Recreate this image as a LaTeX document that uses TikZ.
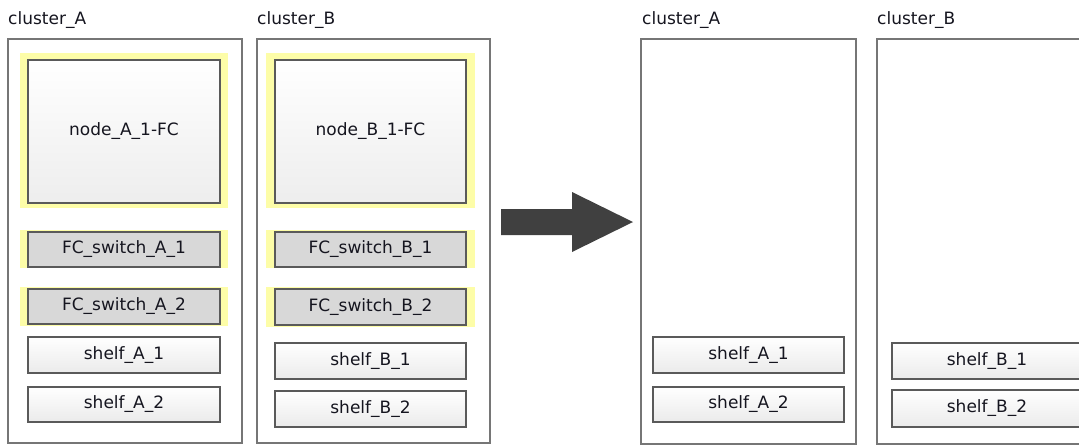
\documentclass[tikz,border=0pt]{standalone}
\usepackage{fontspec}
\setmainfont{DejaVu Sans}
\usetikzlibrary{shadows}
\definecolor{txt}{HTML}{15151F}
\definecolor{edge}{HTML}{5A5A5A}
\definecolor{cedge}{HTML}{767676}
\definecolor{glow}{HTML}{FDFDA8}
\definecolor{swfill}{HTML}{D8D8D8}
\definecolor{arrowc}{HTML}{404040}
\begin{document}
\begin{tikzpicture}[x=1pt,y=-1pt,
  lbl/.style={font=\fontsize{17}{19}\selectfont, text=txt, inner sep=0pt},
  clusterbox/.style={draw=cedge, line width=1.3pt, fill=white,
     drop shadow={shadow xshift=1pt, shadow yshift=-1pt, opacity=0.25}},
  nodebox/.style={draw=edge, line width=1.3pt, top color=white, bottom color=black!7,
     font=\fontsize{17}{19}\selectfont, text=txt, inner sep=0pt},
  switchbox/.style={draw=edge, line width=1.3pt, fill=swfill,
     font=\fontsize{17}{19}\selectfont, text=txt, inner sep=0pt},
  shelfbox/.style={draw=edge, line width=1.3pt, top color=white, bottom color=black!8,
     font=\fontsize{17}{19}\selectfont, text=txt, inner sep=0pt,
     drop shadow={shadow xshift=1pt, shadow yshift=-1.2pt, opacity=0.3}}
]
\useasboundingbox (0,0) rectangle (1079,445);
\clip (0,0) rectangle (1079,445);
\fill[white] (0,0) rectangle (1079,445);

% ---------- left cluster_A ----------
\node[lbl, anchor=base west] (lA) at (8,24) {cluster\_A};
\node[clusterbox, minimum width=234pt, minimum height=404pt] (cA) at (125,241) {};
\fill[glow] (20,53) rectangle (228,208);
\node[nodebox, minimum width=192pt, minimum height=143pt] (nA) at (124,131.5) {node\_A\_1-FC};
\fill[glow] (20,230) rectangle (228,268);
\node[switchbox, minimum width=192pt, minimum height=35pt] (swA1) at (124,249.5) {FC\_switch\_A\_1};
\fill[glow] (20,287) rectangle (228,326);
\node[switchbox, minimum width=192pt, minimum height=35pt] (swA2) at (124,306.5) {FC\_switch\_A\_2};
\node[shelfbox, minimum width=192pt, minimum height=36pt] (shA1) at (124,355) {shelf\_A\_1};
\node[shelfbox, minimum width=192pt, minimum height=35pt] (shA2) at (124,404.5) {shelf\_A\_2};

% ---------- left cluster_B ----------
\node[lbl, anchor=base west] (lB) at (257,24) {cluster\_B};
\node[clusterbox, minimum width=233pt, minimum height=404pt] (cB) at (373.5,241) {};
\fill[glow] (266,53) rectangle (475,208);
\node[nodebox, minimum width=191pt, minimum height=143pt] (nB) at (370.5,131.5) {node\_B\_1-FC};
\fill[glow] (266,230) rectangle (475,268);
\node[switchbox, minimum width=191pt, minimum height=35pt] (swB1) at (370.5,249.5) {FC\_switch\_B\_1};
\fill[glow] (266,287) rectangle (475,327);
\node[switchbox, minimum width=191pt, minimum height=36pt] (swB2) at (370.5,307) {FC\_switch\_B\_2};
\node[shelfbox, minimum width=191pt, minimum height=36pt] (shB1) at (370.5,361) {shelf\_B\_1};
\node[shelfbox, minimum width=191pt, minimum height=36pt] (shB2) at (370.5,409) {shelf\_B\_2};

% ---------- arrow ----------
\fill[arrowc] (501,209) -- (572,209) -- (572,192) -- (633,222) -- (572,252) -- (572,235) -- (501,235) -- cycle;

% ---------- right cluster_A ----------
\node[lbl, anchor=base west] (rlA) at (642,24) {cluster\_A};
\node[clusterbox, minimum width=215pt, minimum height=405pt] (rcA) at (748.5,241.5) {};
\node[shelfbox, minimum width=191pt, minimum height=36pt] (rshA1) at (748.5,355) {shelf\_A\_1};
\node[shelfbox, minimum width=191pt, minimum height=35pt] (rshA2) at (748.5,404.5) {shelf\_A\_2};

% ---------- right cluster_B ----------
\node[lbl, anchor=base west] (rlB) at (877,24) {cluster\_B};
\node[clusterbox, minimum width=215pt, minimum height=405pt] (rcB) at (984.5,241.5) {};
\node[shelfbox, minimum width=190pt, minimum height=36pt] (rshB1) at (987,361) {shelf\_B\_1};
\node[shelfbox, minimum width=190pt, minimum height=37pt] (rshB2) at (987,408.5) {shelf\_B\_2};
\end{tikzpicture}
\end{document}
